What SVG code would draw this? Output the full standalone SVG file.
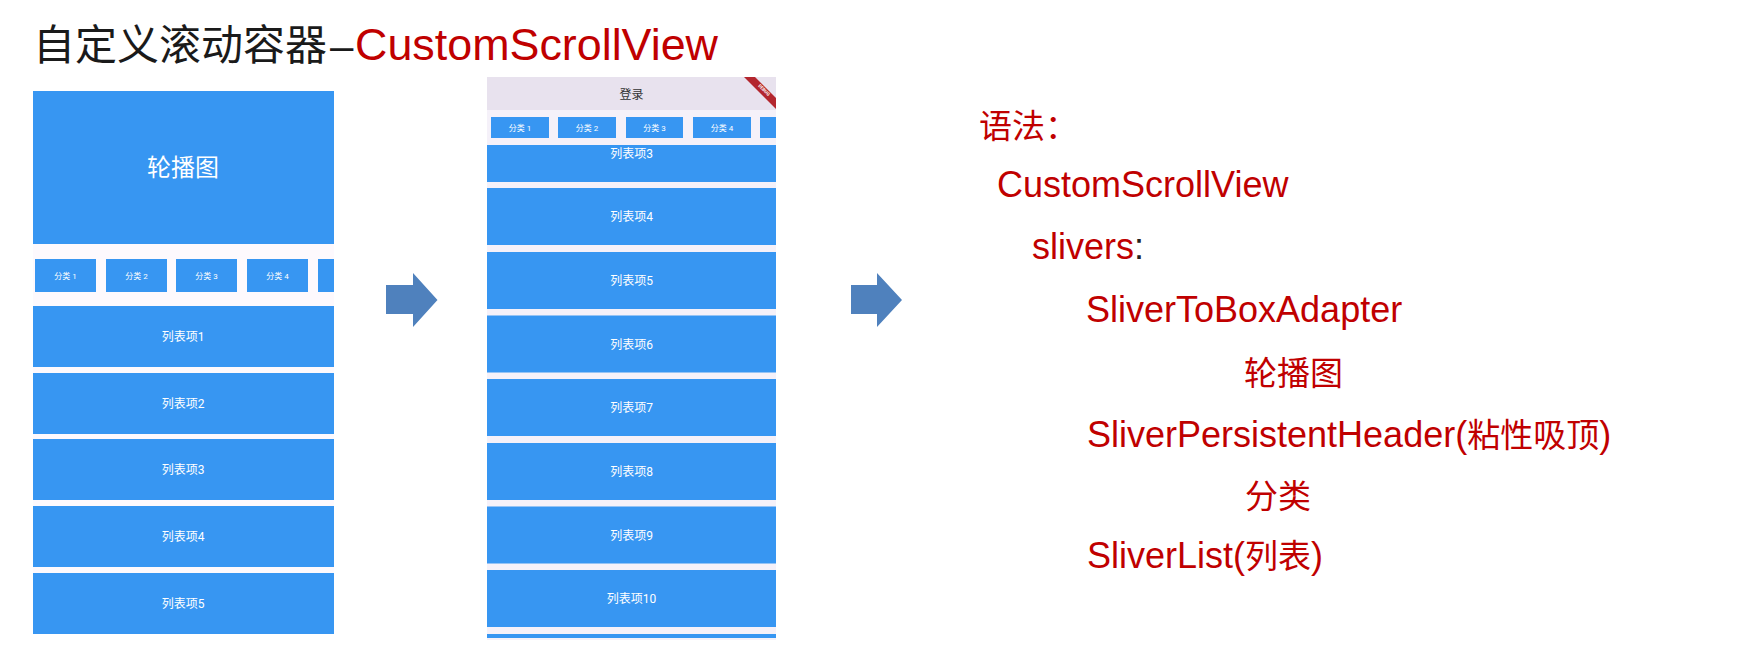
<svg xmlns="http://www.w3.org/2000/svg" width="1738" height="653" viewBox="0 0 1738 653">
<style>
.blue{fill:#3796F2}
.app{font-family:Roboto,"Noto Sans CJK SC",sans-serif;fill:#ffffff;text-anchor:middle}
.chip{font-size:8px}
.item{font-size:12px}
.red{fill:#C00000}
.code{font-family:"Liberation Sans","Noto Sans CJK SC",sans-serif;font-size:36px}
.cjk{font-family:"Noto Sans CJK SC",sans-serif;font-size:33px}
.arrow{fill:#4F81BD}
</style>
<rect width="1738" height="653" fill="#ffffff"/>
<g id="title">
<text y="60" font-family="Liberation Sans,'Noto Sans CJK SC',sans-serif"><tspan x="33" font-family="'Noto Sans CJK SC',sans-serif" font-size="42" fill="#1a1a1a">自定义滚动容器</tspan><tspan x="330" font-size="42" fill="#1a1a1a">–</tspan><tspan x="355" font-size="45" fill="#C00000" textLength="363" lengthAdjust="spacingAndGlyphs">CustomScrollView</tspan></text>
</g>
<g id="screen-before">
<rect x="33" y="91" width="301" height="543" fill="#FDF9FD"/>
<rect class="blue" x="33" y="91" width="301" height="153"/>
<text class="app" x="183" y="176" font-size="24">轮播图</text>
<g id="chips-before">
<rect class="blue" x="35" y="259" width="61" height="33"/>
<rect class="blue" x="106" y="259" width="61" height="33"/>
<rect class="blue" x="176" y="259" width="61" height="33"/>
<rect class="blue" x="247" y="259" width="61" height="33"/>
<rect class="blue" x="318" y="259" width="16" height="33"/>
<text class="app chip" x="65.5" y="278.5">分类 1</text>
<text class="app chip" x="136.5" y="278.5">分类 2</text>
<text class="app chip" x="206.5" y="278.5">分类 3</text>
<text class="app chip" x="277.5" y="278.5">分类 4</text>
</g>
<g id="list-before">
<rect class="blue" x="33" y="306" width="301" height="61"/>
<rect class="blue" x="33" y="373" width="301" height="61"/>
<rect class="blue" x="33" y="439" width="301" height="61"/>
<rect class="blue" x="33" y="506" width="301" height="61"/>
<rect class="blue" x="33" y="573" width="301" height="61"/>
<text class="app item" x="183" y="341">列表项1</text>
<text class="app item" x="183" y="408">列表项2</text>
<text class="app item" x="183" y="474">列表项3</text>
<text class="app item" x="183" y="541">列表项4</text>
<text class="app item" x="183" y="608">列表项5</text>
</g>
</g>
<g id="screen-after">
<rect x="487" y="77" width="289" height="563" fill="#F5F1F9"/>
<rect x="487" y="77" width="289" height="33" fill="#E8E2EE"/>
<text x="631.5" y="99" font-family="Roboto,'Noto Sans CJK SC',sans-serif" font-size="12" fill="#333333" text-anchor="middle">登录</text>
<polygon points="744,77 755,77 776,98 776,109" fill="#B3262E"/>
<text x="0" y="0" font-family="Roboto,sans-serif" font-size="4.5" font-weight="bold" fill="#ffffff" text-anchor="middle" transform="translate(763,91) rotate(45)">DEBUG</text>
<g id="chips-after">
<rect class="blue" x="491" y="117" width="58" height="21"/>
<rect class="blue" x="558" y="117" width="58" height="21"/>
<rect class="blue" x="626" y="117" width="57" height="21"/>
<rect class="blue" x="693" y="117" width="58" height="21"/>
<rect class="blue" x="760" y="117" width="16" height="21"/>
<text class="app chip" x="520" y="130.5">分类 1</text>
<text class="app chip" x="587" y="130.5">分类 2</text>
<text class="app chip" x="654.5" y="130.5">分类 3</text>
<text class="app chip" x="722" y="130.5">分类 4</text>
</g>
<g id="list-after">
<rect class="blue" x="487" y="145" width="289" height="37"/>
<rect class="blue" x="487" y="188" width="289" height="57"/>
<rect class="blue" x="487" y="252" width="289" height="57"/>
<rect class="blue" x="487" y="315.5" width="289" height="57"/>
<rect class="blue" x="487" y="379" width="289" height="57"/>
<rect class="blue" x="487" y="443" width="289" height="57"/>
<rect class="blue" x="487" y="506.5" width="289" height="57"/>
<rect class="blue" x="487" y="570" width="289" height="57"/>
<rect class="blue" x="487" y="634" width="289" height="4"/>
<text class="app item" x="631.5" y="158">列表项3</text>
<text class="app item" x="631.5" y="221">列表项4</text>
<text class="app item" x="631.5" y="285">列表项5</text>
<text class="app item" x="631.5" y="348.5">列表项6</text>
<text class="app item" x="631.5" y="412">列表项7</text>
<text class="app item" x="631.5" y="476">列表项8</text>
<text class="app item" x="631.5" y="539.5">列表项9</text>
<text class="app item" x="631.5" y="603">列表项10</text>
</g>
</g>
<g id="syntax">
<text class="cjk red" x="979" y="138">语法：</text>
<text class="code red" x="997" y="197">CustomScrollView</text>
<text class="code" x="1032" y="259"><tspan class="red">slivers</tspan><tspan fill="#222222">:</tspan></text>
<text class="code red" x="1086" y="322">SliverToBoxAdapter</text>
<text class="cjk red" x="1244" y="385">轮播图</text>
<text class="code red" x="1087" y="447">SliverPersistentHeader(<tspan class="cjk">粘性吸顶</tspan>)</text>
<text class="cjk red" x="1245" y="508">分类</text>
<text class="code red" x="1087" y="568">SliverList(<tspan class="cjk">列表</tspan>)</text>
</g>
<g id="connectors">
<polygon class="arrow" points="386,285 413,285 413,273 437.5,300 413,327 413,314 386,314"/>
<polygon class="arrow" points="851,285 877,285 877,273 902,300 877,327 877,314 851,314"/>
</g>
</svg>
